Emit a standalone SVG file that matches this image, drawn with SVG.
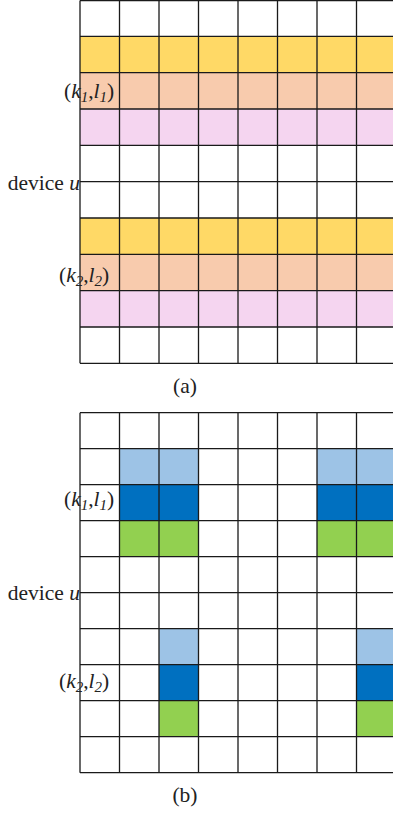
<svg xmlns="http://www.w3.org/2000/svg" width="393" height="814" viewBox="0 0 393 814">
<style>
.grid{fill:none;stroke:#1a1a1a;stroke-width:1.3}
.lbl{font-family:"Liberation Serif","Times New Roman",serif;font-size:21.5px;fill:#222}
.it{font-style:italic}
.sub{font-style:italic;font-size:15px}
.yel{fill:#FFD966}.pea{fill:#F8CBAD}.pin{fill:#F5D5F0}
.lb{fill:#9DC3E6}.db{fill:#0070C0}.gr{fill:#92D050}
</style>
<rect width="393" height="814" fill="#fff"/>
<g id="grid-a">
<rect class="yel" x="80" y="36.33" width="313" height="36.33"/>
<rect class="pea" x="80" y="72.67" width="313" height="36.33"/>
<rect class="pin" x="80" y="109" width="313" height="36.33"/>
<rect class="yel" x="80" y="218" width="313" height="36.33"/>
<rect class="pea" x="80" y="254.33" width="313" height="36.33"/>
<rect class="pin" x="80" y="290.67" width="313" height="36.33"/>
<path class="grid" d="M80 0.6V363.3M119.5 0V363.3M159 0V363.3M198.5 0V363.3M238 0V363.3M277.5 0V363.3M317 0V363.3M356.5 0V363.3
M80 0.6H393M80 36.33H393M80 72.67H393M80 109H393M80 145.33H393M80 181.67H393M80 218H393M80 254.33H393M80 290.67H393M80 327H393M80 363.3H393"/>
</g>
<g id="grid-b">
<rect class="lb" x="119.5" y="448.7" width="79" height="36"/>
<rect class="db" x="119.5" y="484.7" width="79" height="36"/>
<rect class="gr" x="119.5" y="520.7" width="79" height="36"/>
<rect class="lb" x="317" y="448.7" width="76" height="36"/>
<rect class="db" x="317" y="484.7" width="76" height="36"/>
<rect class="gr" x="317" y="520.7" width="76" height="36"/>
<rect class="lb" x="159" y="628.7" width="39.5" height="36"/>
<rect class="db" x="159" y="664.7" width="39.5" height="36"/>
<rect class="gr" x="159" y="700.7" width="39.5" height="36"/>
<rect class="lb" x="356.5" y="628.7" width="36.5" height="36"/>
<rect class="db" x="356.5" y="664.7" width="36.5" height="36"/>
<rect class="gr" x="356.5" y="700.7" width="36.5" height="36"/>
<path class="grid" d="M80 412.7V772.7M119.5 412.7V772.7M159 412.7V772.7M198.5 412.7V772.7M238 412.7V772.7M277.5 412.7V772.7M317 412.7V772.7M356.5 412.7V772.7
M80 412.7H393M80 448.7H393M80 484.7H393M80 520.7H393M80 556.7H393M80 592.7H393M80 628.7H393M80 664.7H393M80 700.7H393M80 736.7H393M80 772.7H393"/>
</g>
<g id="labels-a">
<text class="lbl" x="64" y="98">(<tspan class="it">k</tspan><tspan class="sub" dy="4">1</tspan><tspan dy="-4">,</tspan><tspan class="it">l</tspan><tspan class="sub" dy="4">1</tspan><tspan dy="-4">)</tspan></text>
<text class="lbl" x="80" y="190" text-anchor="end">device <tspan class="it">u</tspan></text>
<text class="lbl" x="59" y="282">(<tspan class="it">k</tspan><tspan class="sub" dy="4">2</tspan><tspan dy="-4">,</tspan><tspan class="it">l</tspan><tspan class="sub" dy="4">2</tspan><tspan dy="-4">)</tspan></text>
<text class="lbl" x="185" y="393" text-anchor="middle">(a)</text>
</g>
<g id="labels-b">
<text class="lbl" x="64" y="506">(<tspan class="it">k</tspan><tspan class="sub" dy="4">1</tspan><tspan dy="-4">,</tspan><tspan class="it">l</tspan><tspan class="sub" dy="4">1</tspan><tspan dy="-4">)</tspan></text>
<text class="lbl" x="80" y="600" text-anchor="end">device <tspan class="it">u</tspan></text>
<text class="lbl" x="59" y="688">(<tspan class="it">k</tspan><tspan class="sub" dy="4">2</tspan><tspan dy="-4">,</tspan><tspan class="it">l</tspan><tspan class="sub" dy="4">2</tspan><tspan dy="-4">)</tspan></text>
<text class="lbl" x="185" y="802" text-anchor="middle">(b)</text>
</g>
</svg>
